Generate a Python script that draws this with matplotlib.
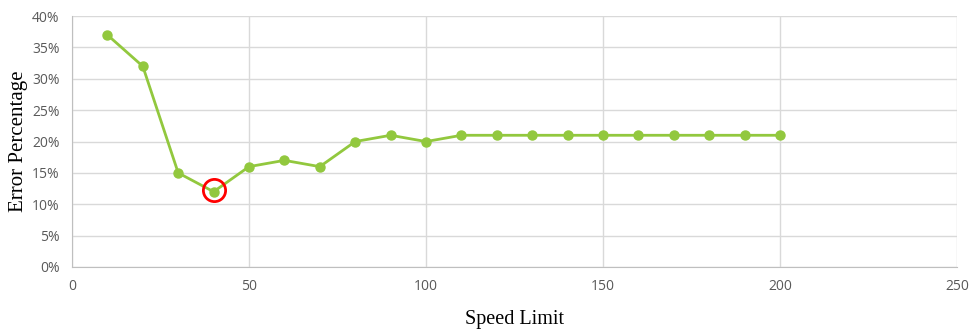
import matplotlib.pyplot as plt
from matplotlib.ticker import PercentFormatter

# speed limit vs. error percentage
speed = [10, 20, 30, 40, 50, 60, 70, 80, 90, 100,
         110, 120, 130, 140, 150, 160, 170, 180, 190, 200]
error = [37, 32, 15, 12, 16, 17, 16, 20, 21, 20,
         21, 21, 21, 21, 21, 21, 21, 21, 21, 21]
best_speed = 40
best_error = 12

fig = plt.figure(figsize=(9.73, 3.29), dpi=100)
ax = fig.add_axes([0.074, 0.1885, 0.9096, 0.7625])

ax.plot(speed, error, color='#92C83E', lw=2, marker='o', ms=6.5, zorder=3)
# highlight the minimum
ax.plot(best_speed, best_error + 0.3, marker='o', ms=16, mfc='none',
        mec='#FF0000', mew=2, zorder=4)

ax.set_xlim(0, 250)
ax.set_ylim(0, 40)
ax.set_xticks(range(0, 251, 50))
ax.set_yticks(range(0, 41, 5))
ax.yaxis.set_major_formatter(PercentFormatter(decimals=0))

ax.grid(True, color='#D9D9D9', lw=1)
ax.set_axisbelow(True)
for s in ['top', 'right']:
    ax.spines[s].set_visible(False)
for s in ['left', 'bottom']:
    ax.spines[s].set_color('#BFBFBF')
ax.tick_params(length=0, labelsize=10, labelcolor='#595959', pad=9)
for lab in ax.get_xticklabels() + ax.get_yticklabels():
    lab.set_family('Open Sans')

ax.set_xlabel('Speed Limit', family='Liberation Serif', fontsize=14.5, labelpad=11)
ax.set_ylabel('Error Percentage', family='Liberation Serif', fontsize=15, labelpad=3)

fig.savefig('out.png', dpi=100)
